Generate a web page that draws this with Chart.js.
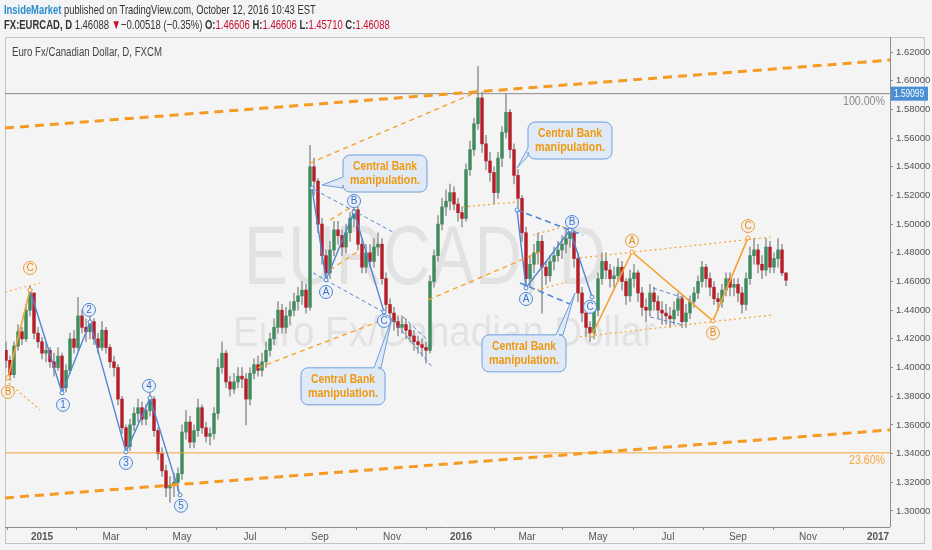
<!DOCTYPE html>
<html>
<head>
<meta charset="utf-8">
<script src="https://cdn.jsdelivr.net/npm/chart.js@4.4.1/dist/chart.umd.min.js"></script>
<style>
  html, body { margin: 0; padding: 0; background: #f2f4f6; }
  #wrap { position: relative; width: 932px; height: 550px; overflow: hidden; }
  .hdr { position: absolute; left: 4px; white-space: nowrap; color: #333;
         font-family: "Liberation Sans", Arial, sans-serif; font-size: 13.5px;
         transform-origin: 0 0; }
  .red { color: #c8102e; }
</style>
</head>
<body>
<div id="wrap">
  <canvas id="chart" width="932" height="550"></canvas>
  <div class="hdr" id="h1" data-w="312" style="top:2px"><span style="color:#2b8ccc;font-weight:bold">InsideMarket</span> published on TradingView.com, October 12, 2016 10:43 EST</div>
  <div class="hdr" id="h2" data-w="386" style="top:17px"><b>FX:EURCAD, D</b> 1.46088 <span class="red">▼</span>−0.00518 (−0.35%) <b>O:</b><span class="red">1.46606</span> <b>H:</b><span class="red">1.46606</span> <b>L:</b><span class="red">1.45710</span> <b>C:</b><span class="red">1.46088</span></div>
</div>
<script>
// each candle = ~2 trading days, Dec 2014 -> Oct 12 2016
const firstOpen = 1.412;
const closes = [
  1.405,1.395,1.415,1.425,1.420,1.440,1.452,1.424,1.418,1.410,
  1.412,1.404,1.400,1.408,1.386,1.398,1.420,1.414,1.436,1.428,
  1.425,1.432,1.420,1.414,1.426,1.414,1.404,1.400,1.378,1.358,
  1.345,1.360,1.368,1.372,1.364,1.370,1.378,1.356,1.340,1.328,
  1.316,1.318,1.320,1.326,1.355,1.362,1.348,1.356,1.372,1.358,
  1.352,1.354,1.368,1.400,1.410,1.390,1.385,1.390,1.394,1.392,
  1.378,1.396,1.402,1.398,1.404,1.412,1.420,1.428,1.440,1.428,
  1.436,1.440,1.446,1.450,1.454,1.442,1.540,1.530,1.500,1.478,
  1.466,1.482,1.496,1.492,1.484,1.494,1.504,1.510,1.486,1.470,
  1.480,1.474,1.484,1.486,1.462,1.444,1.438,1.432,1.428,1.430,
  1.426,1.422,1.418,1.416,1.414,1.412,1.460,1.478,1.500,1.512,
  1.516,1.522,1.514,1.508,1.504,1.538,1.552,1.570,1.588,1.556,
  1.544,1.536,1.522,1.546,1.564,1.578,1.552,1.534,1.518,1.494,
  1.462,1.472,1.480,1.488,1.470,1.464,1.474,1.478,1.482,1.486,
  1.490,1.494,1.476,1.452,1.438,1.428,1.424,1.440,1.462,1.474,
  1.468,1.462,1.464,1.470,1.460,1.450,1.462,1.466,1.452,1.442,
  1.440,1.452,1.446,1.440,1.438,1.436,1.434,1.440,1.448,1.432,
  1.438,1.446,1.452,1.460,1.470,1.462,1.456,1.448,1.446,1.454,
  1.462,1.456,1.458,1.452,1.444,1.462,1.478,1.482,1.472,1.468,
  1.484,1.470,1.476,1.482,1.466,1.46088
];
const highs = [
  1.418,1.408,1.418,1.430,1.428,1.444,1.457,1.452,1.428,1.421,
  1.418,1.414,1.410,1.414,1.410,1.402,1.424,1.426,1.449,1.440,
  1.434,1.436,1.434,1.424,1.432,1.428,1.416,1.408,1.402,1.380,
  1.360,1.364,1.372,1.378,1.376,1.374,1.382,1.380,1.358,1.344,
  1.332,1.324,1.326,1.330,1.360,1.370,1.366,1.360,1.378,1.374,
  1.362,1.358,1.372,1.406,1.418,1.412,1.394,1.396,1.400,1.400,
  1.396,1.400,1.406,1.408,1.410,1.418,1.424,1.434,1.446,1.444,
  1.442,1.446,1.452,1.456,1.460,1.458,1.555,1.546,1.532,1.504,
  1.482,1.488,1.502,1.502,1.496,1.500,1.508,1.516,1.512,1.490,
  1.486,1.486,1.490,1.494,1.490,1.466,1.448,1.442,1.436,1.436,
  1.434,1.430,1.426,1.422,1.420,1.418,1.464,1.482,1.506,1.518,
  1.524,1.528,1.526,1.518,1.512,1.542,1.558,1.574,1.610,1.592,
  1.562,1.550,1.540,1.550,1.568,1.591,1.580,1.556,1.538,1.520,
  1.498,1.478,1.486,1.494,1.492,1.474,1.478,1.484,1.488,1.492,
  1.496,1.498,1.496,1.480,1.456,1.444,1.432,1.446,1.466,1.480,
  1.480,1.472,1.470,1.476,1.474,1.462,1.468,1.472,1.468,1.456,
  1.448,1.458,1.456,1.450,1.446,1.444,1.442,1.446,1.452,1.450,
  1.444,1.450,1.456,1.464,1.474,1.472,1.466,1.460,1.452,1.458,
  1.466,1.466,1.462,1.462,1.456,1.466,1.484,1.490,1.486,1.478,
  1.490,1.488,1.480,1.490,1.486,1.46606
];
const lows = [
  1.400,1.391,1.393,1.412,1.416,1.418,1.436,1.420,1.414,1.406,
  1.404,1.400,1.394,1.398,1.382,1.383,1.396,1.410,1.412,1.424,
  1.418,1.420,1.416,1.410,1.412,1.410,1.400,1.394,1.374,1.354,
  1.340,1.342,1.356,1.362,1.360,1.360,1.366,1.352,1.336,1.324,
  1.310,1.306,1.310,1.314,1.322,1.350,1.344,1.344,1.352,1.354,
  1.348,1.346,1.350,1.364,1.396,1.386,1.380,1.382,1.386,1.386,
  1.360,1.374,1.392,1.394,1.394,1.400,1.408,1.416,1.424,1.424,
  1.424,1.430,1.436,1.440,1.444,1.438,1.440,1.520,1.494,1.472,
  1.460,1.462,1.478,1.486,1.478,1.480,1.488,1.498,1.482,1.466,
  1.466,1.470,1.470,1.478,1.458,1.440,1.432,1.426,1.422,1.424,
  1.420,1.418,1.412,1.410,1.408,1.403,1.410,1.456,1.474,1.496,
  1.506,1.510,1.510,1.502,1.498,1.502,1.534,1.548,1.566,1.550,
  1.538,1.530,1.514,1.518,1.540,1.560,1.546,1.528,1.510,1.488,
  1.456,1.456,1.466,1.472,1.438,1.458,1.460,1.468,1.474,1.476,
  1.480,1.484,1.470,1.446,1.432,1.422,1.418,1.420,1.436,1.458,
  1.462,1.456,1.456,1.460,1.454,1.444,1.446,1.456,1.446,1.436,
  1.432,1.436,1.440,1.434,1.430,1.430,1.428,1.430,1.436,1.428,
  1.428,1.434,1.442,1.448,1.456,1.456,1.450,1.444,1.440,1.442,
  1.450,1.450,1.450,1.446,1.438,1.440,1.458,1.472,1.466,1.462,
  1.464,1.466,1.466,1.470,1.464,1.45710
];

const tickBars = [9, 26.25, 44, 61, 78.5, 96.5, 113.75, 130.25, 148, 165.5, 183, 200.5, 218];
const tickLabels = ["2015", "Mar", "May", "Jul", "Sep", "Nov", "2016", "Mar", "May", "Jul", "Sep", "Nov", "2017"];
const priceTicks = [1.30, 1.32, 1.34, 1.36, 1.38, 1.40, 1.42, 1.44, 1.46, 1.48, 1.50, 1.52, 1.54, 1.56, 1.58, 1.60, 1.62];

// drawings on the chart, in (bar, price)
const fibLevels = [{ price: 1.59099, label: "100.00%", color: "#8a8a8a" },
                   { price: 1.3405, label: "23.60%", color: "#f5a53c" }];
const drawLines = [
  { k: "thick", p: [[-0.25, 1.5670], [221, 1.6144]] },
  { k: "thick", p: [[-0.25, 1.3091], [221, 1.3565]] },
  { k: "dot",   p: [[-0.25, 1.4527], [8.5, 1.4590]] },
  { k: "dot",   p: [[-0.25, 1.3914], [8.5, 1.3705]] },
  { k: "abc",   p: [[0.5, 1.3930], [6, 1.4541]] },
  { k: "wave",  p: [[6, 1.4541], [14, 1.3823], [21, 1.4318], [30, 1.3412], [36, 1.3788], [43.5, 1.3112]] },
  { k: "dash",  p: [[76, 1.5426], [117.75, 1.5921]] },
  { k: "wave",  p: [[76.5, 1.5252], [80, 1.4611], [87, 1.5085], [94.5, 1.4388]] },
  { k: "bdash", p: [[77.25, 1.5238], [96.75, 1.4945]] },
  { k: "bdash", p: [[76.75, 1.4660], [94.25, 1.4388]] },
  { k: "bdash", p: [[99.25, 1.4353], [106.75, 1.4158]] },
  { k: "bdash", p: [[96.75, 1.4332], [106.75, 1.3998]] },
  { k: "dash",  p: [[81, 1.5029], [86, 1.5113]] },
  { k: "dash",  p: [[81, 1.4680], [88.5, 1.4820]] },
  { k: "dash",  p: [[63, 1.3998], [95.5, 1.4346]] },
  { k: "dash",  p: [[105.5, 1.4471], [133.5, 1.4806]] },
  { k: "dot",   p: [[114.25, 1.5120], [127.75, 1.5155]] },
  { k: "wave",  p: [[127.75, 1.5099], [130, 1.4555], [141, 1.4959], [146.5, 1.4492]] },
  { k: "bdash2", p: [[127.75, 1.5099], [144.25, 1.4924]] },
  { k: "bdash2", p: [[128.5, 1.4590], [141.5, 1.4437]] },
  { k: "dot",   p: [[131.75, 1.4924], [141, 1.4994]] },
  { k: "dot",   p: [[132.75, 1.4541], [140.25, 1.4597]] },
  { k: "abc",   p: [[146.5, 1.4228], [156.5, 1.4806], [176.75, 1.4325], [185.5, 1.4904]] },
  { k: "dot",   p: [[143.5, 1.4764], [191.5, 1.4911]] },
  { k: "dot",   p: [[143.5, 1.4214], [191.5, 1.4367]] },
  { k: "bdash", p: [[161.75, 1.4555], [171, 1.4471]] },
  { k: "bdash", p: [[161, 1.4353], [169.25, 1.4297]] }
];
const waveMarks = [
  { t: "B", x: 0.5, y: 1.3830, c: "o" }, { t: "C", x: 6, y: 1.4694, c: "o" },
  { t: "1", x: 14.25, y: 1.3740, c: "b" }, { t: "2", x: 20.75, y: 1.4402, c: "b" },
  { t: "3", x: 30, y: 1.3335, c: "b" }, { t: "4", x: 35.75, y: 1.3872, c: "b" },
  { t: "5", x: 43.75, y: 1.3036, c: "b" },
  { t: "A", x: 80, y: 1.4527, c: "b" }, { t: "B", x: 87, y: 1.5161, c: "b" }, { t: "C", x: 94.5, y: 1.4325, c: "b" },
  { t: "A", x: 130, y: 1.4478, c: "b" }, { t: "B", x: 141.5, y: 1.5015, c: "b" }, { t: "C", x: 146, y: 1.4423, c: "b" },
  { t: "A", x: 156.5, y: 1.4883, c: "o" }, { t: "B", x: 176.75, y: 1.4241, c: "o" }, { t: "C", x: 185.5, y: 1.4987, c: "o" }
];
const callouts = [
  { x: 84.25, y: 1.5482, side: "left", b1: 22, b2: 33, tx: 79, ty: 1.5273 },
  { x: 73.75, y: 1.3998, side: "top", b1: 73, b2: 80, tx: 96.5, ty: 1.4346 },
  { x: 130.5, y: 1.5712, side: "left", b1: 26, b2: 34, tx: 127.75, ty: 1.5391 },
  { x: 119, y: 1.4228, side: "top", b1: 74, b2: 81, tx: 142.25, ty: 1.4520 }
];
const calloutText = ["Central Bank", "manipulation."];
const lastPrice = 1.59099;

const BLUE = "#4f86d6";
const ORANGE = "#f7a232";
const lineStyle = {
  thick:  { color: "#f59a23", width: 3, dash: [9, 6] },
  dash:   { color: ORANGE, width: 1.4, dash: [5, 4] },
  dot:    { color: ORANGE, width: 1.2, dash: [2, 3] },
  abc:    { color: ORANGE, width: 1.6, dash: [] },
  wave:   { color: BLUE, width: 1.4, dash: [] },
  bdash:  { color: BLUE, width: 1, dash: [4, 3] },
  bdash2: { color: BLUE, width: 1.6, dash: [6, 4] }
};

const FONT = "'Liberation Sans', Arial, sans-serif";

// squeeze the header lines to the narrow look of the original
document.querySelectorAll(".hdr").forEach(el => {
  el.style.transform = `scaleX(${el.dataset.w / el.offsetWidth})`;
});

// candles: wick and body as floating bars on a linear bar-index axis
const wickData = [];
const bodyData = [];
const bodyColors = [];
closes.forEach((c, i) => {
  const o = i === 0 ? firstOpen : closes[i - 1];
  wickData.push({ x: i, y: [lows[i], highs[i]] });
  bodyData.push({ x: i, y: [o, c] });
  bodyColors.push(c >= o ? "#3f8b5e" : "#b3202a");
});

const lineSets = [];
fibLevels.forEach(f => {
  lineSets.push({
    type: "line", data: [{ x: -0.25, y: f.price }, { x: 221, y: f.price }],
    borderColor: f.color, borderWidth: 1, pointRadius: 0, order: 1
  });
});
drawLines.forEach(l => {
  const s = lineStyle[l.k];
  const solid = l.k === "wave" || l.k === "abc";
  lineSets.push({
    type: "line",
    data: l.p.map(q => ({ x: q[0], y: q[1] })),
    borderColor: s.color, borderWidth: s.width, borderDash: s.dash,
    pointRadius: solid ? 2 : 0, pointBorderWidth: 1,
    pointBackgroundColor: "#f4f4f4", pointBorderColor: s.color,
    tension: 0, order: 0
  });
});

// text squeezed horizontally to a given width
function fitText(c, text, x, y, width, align) {
  const w = c.measureText(text).width;
  const k = width / w;
  c.save();
  c.translate(align === "center" ? x - width / 2 : align === "right" ? x - width : x, y);
  c.scale(k, 1);
  c.textAlign = "left";
  c.fillText(text, 0, 0);
  c.restore();
}

const panelPlugin = {
  id: "panel",
  beforeDraw(chart) {
    const c = chart.ctx, a = chart.chartArea;
    c.save();
    c.fillStyle = "#f4f4f4";
    c.fillRect(5, 37, 920, 507);
    c.strokeStyle = "#c4c4c4";
    c.lineWidth = 1;
    c.strokeRect(5.5, 37.5, 919, 506);
    c.strokeStyle = "#8c8c8c";
    c.beginPath();
    c.moveTo(a.left, a.bottom + 0.5); c.lineTo(a.right, a.bottom + 0.5);
    c.moveTo(a.right + 0.5, a.top); c.lineTo(a.right + 0.5, a.bottom);
    c.stroke();
    c.restore();
  },
  beforeDatasetsDraw(chart) {
    const c = chart.ctx;
    c.save();
    c.fillStyle = "rgba(0,0,0,0.07)";
    c.textBaseline = "alphabetic";
    c.font = "84px " + FONT;
    fitText(c, "EURCAD, D", 425, 284, 362, "center");
    c.font = "42px " + FONT;
    fitText(c, "Euro Fx/Canadian Dollar", 444, 346, 422, "center");
    c.fillStyle = "#444";
    c.font = "12.5px " + FONT;
    c.textBaseline = "middle";
    fitText(c, "Euro Fx/Canadian Dollar, D, FXCM", 12, 53, 150, "left");
    c.restore();
  }
};

function roundBubble(c, x, y, w, h, r, co, tx, ty) {
  c.beginPath();
  c.moveTo(x + r, y);
  if (co.side === "top") { c.lineTo(x + co.b1, y); c.lineTo(tx, ty); c.lineTo(x + co.b2, y); }
  c.lineTo(x + w - r, y); c.arcTo(x + w, y, x + w, y + r, r);
  c.lineTo(x + w, y + h - r); c.arcTo(x + w, y + h, x + w - r, y + h, r);
  c.lineTo(x + r, y + h); c.arcTo(x, y + h, x, y + h - r, r);
  if (co.side === "left") { c.lineTo(x, y + co.b2); c.lineTo(tx, ty); c.lineTo(x, y + co.b1); }
  c.lineTo(x, y + r); c.arcTo(x, y, x + r, y, r);
  c.closePath();
}

const overlayPlugin = {
  id: "overlay",
  afterDatasetsDraw(chart) {
    const c = chart.ctx, xs = chart.scales.x, ys = chart.scales.y;
    c.save();
    // fib labels
    c.font = "12px " + FONT;
    c.textBaseline = "top";
    fibLevels.forEach(f => {
      c.fillStyle = f.color;
      fitText(c, f.label, chart.chartArea.right - 5, ys.getPixelForValue(f.price) + 2, f.label.length * 6, "right");
    });
    // wave circles
    c.textAlign = "center";
    c.textBaseline = "middle";
    c.font = "10px " + FONT;
    waveMarks.forEach(m => {
      const px = xs.getPixelForValue(m.x), py = ys.getPixelForValue(m.y);
      c.beginPath();
      c.arc(px, py, 6.5, 0, Math.PI * 2);
      c.fillStyle = m.c === "b" ? "#e9f0fa" : "#f8f0e4";
      c.fill();
      c.lineWidth = 1;
      c.strokeStyle = m.c === "b" ? BLUE : "#e3a04a";
      c.stroke();
      c.fillStyle = m.c === "b" ? "#3d74c4" : "#d98d2a";
      c.fillText(m.t, px, py + 0.5);
    });
    // callouts
    callouts.forEach(co => {
      const x = xs.getPixelForValue(co.x), y = ys.getPixelForValue(co.y);
      const tx = xs.getPixelForValue(co.tx), ty = ys.getPixelForValue(co.ty);
      roundBubble(c, x, y, 84, 37, 7, co, tx, ty);
      c.fillStyle = "rgba(222,233,246,0.95)";
      c.fill();
      c.strokeStyle = "#6d9fdc";
      c.lineWidth = 1;
      c.stroke();
      c.fillStyle = "#f0980f";
      c.font = "bold 12.5px " + FONT;
      fitText(c, calloutText[0], x + 42, y + 12, 64, "center");
      fitText(c, calloutText[1], x + 42, y + 26, 70, "center");
    });
    // last price tag
    const py = ys.getPixelForValue(lastPrice);
    c.fillStyle = "#4a8fd4";
    c.fillRect(891, py - 7, 37, 14);
    c.fillStyle = "#fff";
    c.font = "11px " + FONT;
    fitText(c, lastPrice.toFixed(5), 894, py, 30, "left");
    c.restore();
  }
};

const ctx = document.getElementById("chart").getContext("2d");
new Chart(ctx, {
  type: "bar",
  data: {
    datasets: [
      ...lineSets,
      { data: wickData, backgroundColor: "#9d9d9d", barThickness: 1, grouped: false, order: 3 },
      { data: bodyData, backgroundColor: bodyColors, barThickness: 2.8, minBarLength: 1, grouped: false, order: 2 }
    ]
  },
  options: {
    responsive: false,
    animation: false,
    layout: { padding: { left: 5, top: 37, right: 0, bottom: 6 } },
    plugins: { legend: { display: false }, tooltip: { enabled: false } },
    scales: {
      x: {
        type: "linear", min: -0.25, max: 221, offset: false,
        border: { display: false },
        grid: { drawOnChartArea: false, tickLength: 3, color: "#8c8c8c" },
        afterBuildTicks: s => { s.ticks = tickBars.map(v => ({ value: v })); },
        afterFit: s => { s.height = 17; },
        ticks: {
          autoSkip: false, maxRotation: 0, padding: 1, color: "#555",
          font: c => ({ family: FONT, size: 10, weight: /^\d/.test(tickLabels[c.index] || "") ? "bold" : "normal" }),
          callback: (v, i) => tickLabels[i]
        }
      },
      y: {
        position: "right", min: 1.2888, max: 1.6305,
        border: { display: false },
        grid: { drawOnChartArea: false, tickLength: 3, color: "#8c8c8c" },
        afterBuildTicks: s => { s.ticks = priceTicks.map(v => ({ value: v })); },
        afterFit: s => { s.width = 42; },
        ticks: { padding: 3, color: "#555", font: { family: FONT, size: 9.5 }, callback: v => v.toFixed(5) }
      }
    }
  },
  plugins: [panelPlugin, overlayPlugin]
});
</script>
</body>
</html>
